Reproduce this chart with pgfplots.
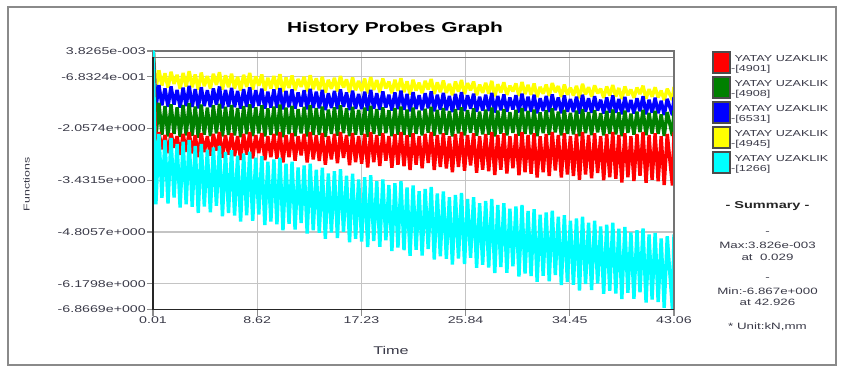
\documentclass[border=0pt]{standalone}
\usepackage{fontspec}
\setmainfont{Liberation Sans}
\newfontfamily\wide{Liberation Sans}[FakeStretch=1.45]
\usepackage{pgfplots}
\pgfplotsset{compat=1.18}
\usepackage{pgfplotstable}
\definecolor{txt}{HTML}{3A3A48}
\definecolor{cgreen}{HTML}{008000}
\definecolor{cblue}{HTML}{0000FF}
\definecolor{cred}{HTML}{FF0000}
\definecolor{ccyan}{HTML}{00FFFF}
\definecolor{cylw}{HTML}{FFFF00}
\definecolor{gridc}{HTML}{C4C4C4}
\definecolor{framec}{HTML}{8A8A8A}

\pgfplotstableread{
t R G B Y C
0.01 0 0 0 0 0
0.03 0.0038 0.0038 0.0038 0.0038 0.0038
0.25 -2.76 -2.30 -1.50 -1.00 -4.07
0.5 -2.15 -1.37 -0.90 -0.51 -2.20
0.75 -2.61 -2.22 -1.44 -0.91 -3.90
1.0 -2.23 -1.46 -0.99 -0.59 -2.36
1.25 -2.71 -2.27 -1.48 -0.97 -4.05
1.5 -2.18 -1.41 -0.94 -0.55 -2.31
1.75 -2.57 -2.20 -1.42 -0.87 -3.89
2.0 -2.26 -1.49 -1.03 -0.63 -2.47
2.25 -2.76 -2.28 -1.50 -1.00 -4.16
2.5 -2.20 -1.43 -0.97 -0.58 -2.41
2.75 -2.68 -2.24 -1.46 -0.94 -4.07
3.0 -2.15 -1.38 -0.92 -0.53 -2.36
3.25 -2.72 -2.25 -1.48 -0.96 -4.14
3.5 -2.23 -1.47 -1.01 -0.62 -2.52
3.75 -2.82 -2.30 -1.52 -1.03 -4.30
4.0 -2.18 -1.42 -0.96 -0.57 -2.47
4.25 -2.68 -2.22 -1.46 -0.93 -4.13
4.5 -2.26 -1.50 -1.04 -0.66 -2.62
4.75 -2.78 -2.26 -1.49 -0.99 -4.28
5.0 -2.20 -1.44 -0.99 -0.60 -2.56
5.25 -2.64 -2.19 -1.43 -0.90 -4.11
5.5 -2.15 -1.40 -0.94 -0.56 -2.52
5.75 -2.83 -2.27 -1.52 -1.02 -4.39
6.0 -2.23 -1.48 -1.03 -0.64 -2.68
6.25 -2.75 -2.23 -1.48 -0.96 -4.30
6.5 -2.18 -1.43 -0.98 -0.60 -2.63
6.75 -2.79 -2.24 -1.49 -0.99 -4.37
7.0 -2.26 -1.51 -1.06 -0.68 -2.78
7.25 -2.89 -2.29 -1.53 -1.05 -4.53
7.5 -2.20 -1.46 -1.01 -0.63 -2.72
7.75 -2.75 -2.21 -1.48 -0.95 -4.36
8.0 -2.15 -1.41 -0.96 -0.58 -2.67
8.25 -2.85 -2.26 -1.51 -1.02 -4.51
8.5 -2.23 -1.49 -1.04 -0.67 -2.83
8.75 -2.71 -2.19 -1.45 -0.92 -4.34
9.0 -2.18 -1.44 -1.00 -0.62 -2.79
9.25 -2.90 -2.27 -1.53 -1.05 -4.62
9.5 -2.26 -1.52 -1.08 -0.71 -2.94
9.75 -2.82 -2.23 -1.50 -0.99 -4.53
10.0 -2.20 -1.47 -1.02 -0.66 -2.88
10.25 -2.86 -2.24 -1.51 -1.01 -4.60
10.5 -2.15 -1.42 -0.98 -0.61 -2.83
10.75 -2.96 -2.29 -1.55 -1.08 -4.76
11.0 -2.23 -1.50 -1.06 -0.70 -2.99
11.25 -2.82 -2.21 -1.49 -0.98 -4.59
11.5 -2.18 -1.45 -1.02 -0.65 -2.94
11.75 -2.91 -2.26 -1.53 -1.04 -4.74
12.0 -2.26 -1.54 -1.10 -0.74 -3.09
12.25 -2.77 -2.19 -1.47 -0.95 -4.57
12.5 -2.20 -1.48 -1.04 -0.68 -3.04
12.75 -2.96 -2.27 -1.55 -1.07 -4.85
13.0 -2.15 -1.43 -1.00 -0.64 -2.99
13.25 -2.88 -2.23 -1.51 -1.01 -4.76
13.5 -2.23 -1.51 -1.08 -0.72 -3.15
13.75 -2.92 -2.23 -1.52 -1.04 -4.83
14.0 -2.18 -1.47 -1.03 -0.68 -3.10
14.25 -3.02 -2.28 -1.57 -1.10 -4.99
14.5 -2.26 -1.55 -1.12 -0.76 -3.25
14.75 -2.88 -2.20 -1.51 -1.00 -4.82
15.0 -2.20 -1.49 -1.06 -0.71 -3.19
15.25 -2.98 -2.25 -1.54 -1.07 -4.97
15.5 -2.15 -1.44 -1.02 -0.66 -3.14
15.75 -2.84 -2.18 -1.48 -0.97 -4.80
16.0 -2.23 -1.52 -1.10 -0.75 -3.31
16.25 -3.03 -2.26 -1.57 -1.09 -5.08
16.5 -2.18 -1.48 -1.05 -0.70 -3.26
16.75 -2.95 -2.22 -1.53 -1.04 -4.99
17.0 -2.26 -1.56 -1.14 -0.79 -3.41
17.25 -2.99 -2.23 -1.54 -1.06 -5.06
17.5 -2.20 -1.50 -1.08 -0.73 -3.35
17.75 -3.09 -2.28 -1.58 -1.12 -5.21
18.0 -2.15 -1.45 -1.03 -0.69 -3.30
18.25 -2.95 -2.20 -1.53 -1.03 -5.05
18.5 -2.23 -1.54 -1.12 -0.77 -3.46
18.75 -3.05 -2.25 -1.56 -1.09 -5.20
19.0 -2.18 -1.49 -1.07 -0.73 -3.41
19.25 -2.91 -2.18 -1.50 -0.99 -5.03
19.5 -2.26 -1.57 -1.16 -0.81 -3.56
19.75 -3.10 -2.26 -1.58 -1.12 -5.31
20.0 -2.20 -1.51 -1.10 -0.76 -3.51
20.25 -3.02 -2.22 -1.54 -1.06 -5.22
20.5 -2.15 -1.47 -1.05 -0.72 -3.46
20.75 -3.06 -2.23 -1.56 -1.09 -5.29
21.0 -2.23 -1.55 -1.14 -0.80 -3.62
21.25 -3.16 -2.28 -1.60 -1.15 -5.44
21.5 -2.18 -1.50 -1.09 -0.76 -3.57
21.75 -3.02 -2.20 -1.54 -1.05 -5.28
22.0 -2.26 -1.58 -1.17 -0.84 -3.72
22.25 -3.11 -2.24 -1.57 -1.12 -5.43
22.5 -2.20 -1.53 -1.12 -0.79 -3.66
22.75 -2.97 -2.17 -1.52 -1.02 -5.26
23.0 -2.15 -1.48 -1.07 -0.74 -3.61
23.25 -3.16 -2.25 -1.60 -1.14 -5.54
23.5 -2.23 -1.56 -1.16 -0.83 -3.78
23.75 -3.08 -2.21 -1.56 -1.09 -5.45
24.0 -2.18 -1.51 -1.11 -0.78 -3.73
24.25 -3.12 -2.22 -1.57 -1.11 -5.52
24.5 -2.26 -1.59 -1.19 -0.87 -3.88
24.75 -3.22 -2.27 -1.62 -1.17 -5.67
25.0 -2.20 -1.54 -1.14 -0.81 -3.82
25.25 -3.08 -2.19 -1.56 -1.08 -5.51
25.5 -2.15 -1.49 -1.09 -0.77 -3.77
25.75 -3.18 -2.24 -1.59 -1.14 -5.66
26.0 -2.23 -1.57 -1.17 -0.85 -3.93
26.25 -3.04 -2.17 -1.53 -1.04 -5.49
26.5 -2.18 -1.52 -1.13 -0.81 -3.88
26.75 -3.23 -2.25 -1.61 -1.17 -5.76
27.0 -2.26 -1.61 -1.21 -0.89 -4.04
27.25 -3.15 -2.21 -1.58 -1.11 -5.68
27.5 -2.20 -1.55 -1.16 -0.84 -3.98
27.75 -3.19 -2.22 -1.59 -1.13 -5.75
28.0 -2.15 -1.50 -1.11 -0.79 -3.93
28.25 -3.29 -2.27 -1.63 -1.20 -5.90
28.5 -2.23 -1.58 -1.19 -0.88 -4.09
28.75 -3.15 -2.19 -1.57 -1.10 -5.74
29.0 -2.18 -1.54 -1.15 -0.83 -4.04
29.25 -3.25 -2.24 -1.61 -1.16 -5.89
29.5 -2.26 -1.62 -1.23 -0.92 -4.19
29.75 -3.11 -2.17 -1.55 -1.07 -5.72
30.0 -2.20 -1.56 -1.17 -0.86 -4.13
30.25 -3.30 -2.25 -1.63 -1.19 -5.99
30.5 -2.15 -1.51 -1.13 -0.82 -4.09
30.75 -3.22 -2.20 -1.59 -1.14 -5.91
31.0 -2.23 -1.59 -1.21 -0.90 -4.25
31.25 -3.26 -2.21 -1.61 -1.16 -5.98
31.5 -2.18 -1.55 -1.16 -0.86 -4.20
31.75 -3.36 -2.26 -1.65 -1.22 -6.13
32.0 -2.26 -1.63 -1.25 -0.95 -4.35
32.25 -3.22 -2.18 -1.59 -1.13 -5.97
32.5 -2.20 -1.57 -1.19 -0.89 -4.29
32.75 -3.32 -2.23 -1.62 -1.19 -6.12
33.0 -2.15 -1.52 -1.15 -0.85 -4.24
33.25 -3.17 -2.16 -1.57 -1.09 -5.95
33.5 -2.23 -1.61 -1.23 -0.93 -4.40
33.75 -3.36 -2.24 -1.65 -1.22 -6.22
34.0 -2.18 -1.56 -1.18 -0.89 -4.36
34.25 -3.28 -2.20 -1.61 -1.16 -6.14
34.5 -2.26 -1.64 -1.27 -0.97 -4.51
34.75 -3.32 -2.21 -1.62 -1.18 -6.21
35.0 -2.20 -1.58 -1.21 -0.92 -4.45
35.25 -3.42 -2.26 -1.66 -1.25 -6.36
35.5 -2.15 -1.54 -1.16 -0.87 -4.40
35.75 -3.28 -2.18 -1.61 -1.15 -6.19
36.0 -2.23 -1.62 -1.25 -0.96 -4.56
36.25 -3.38 -2.23 -1.64 -1.21 -6.35
36.5 -2.18 -1.57 -1.20 -0.91 -4.51
36.75 -3.24 -2.16 -1.58 -1.12 -6.18
37.0 -2.26 -1.65 -1.29 -1.00 -4.66
37.25 -3.43 -2.24 -1.66 -1.24 -6.45
37.5 -2.20 -1.59 -1.23 -0.94 -4.61
37.75 -3.35 -2.20 -1.63 -1.18 -6.37
38.0 -2.15 -1.55 -1.18 -0.90 -4.56
38.25 -3.39 -2.21 -1.64 -1.21 -6.44
38.5 -2.23 -1.63 -1.27 -0.98 -4.72
38.75 -3.49 -2.26 -1.68 -1.27 -6.59
39.0 -2.18 -1.58 -1.22 -0.94 -4.67
39.25 -3.35 -2.17 -1.62 -1.17 -6.42
39.5 -2.26 -1.66 -1.30 -1.02 -4.82
39.75 -3.45 -2.22 -1.66 -1.24 -6.58
40.0 -2.20 -1.61 -1.25 -0.97 -4.76
40.25 -3.31 -2.15 -1.60 -1.14 -6.41
40.5 -2.15 -1.56 -1.20 -0.92 -4.71
40.75 -3.50 -2.23 -1.68 -1.26 -6.68
41.0 -2.23 -1.64 -1.29 -1.01 -4.87
41.25 -3.42 -2.19 -1.64 -1.21 -6.60
41.5 -2.18 -1.59 -1.24 -0.96 -4.83
41.75 -3.46 -2.20 -1.65 -1.23 -6.67
42.0 -2.26 -1.68 -1.32 -1.05 -4.98
42.25 -3.56 -2.25 -1.70 -1.30 -6.82
42.5 -2.20 -1.62 -1.27 -1.00 -4.92
42.93 -3.57 -2.25 -1.70 -1.30 -6.867
43.06 -2.15 -1.57 -1.22 -0.95 -4.87
}\histdata

\begin{document}
\begin{tikzpicture}[x=1pt,y=1pt]
\useasboundingbox (0,0) rectangle (842,367);
\fill[white] (0,0) rectangle (842,367);
\draw[framec, line width=2pt] (8,2.5) rectangle (836,359.5);
\begin{axis}[
  name=ax,
  at={(153pt,57.5pt)}, anchor=south west, scale only axis,
  width=521pt, height=258.5pt,
  xmin=0.01, xmax=43.06, ymin=-6.8669, ymax=0.0038265,
  xtick={0.01,8.62,17.23,25.84,34.45,43.06},
  xticklabels={0.01,8.62,17.23,25.84,34.45,43.06},
  ytick={-6.8669,-6.1798,-4.8057,-3.4315,-2.0574,-0.68324,0.0038265},
  yticklabels={-6.8669e+000,-6.1798e+000,-4.8057e+000,-3.4315e+000,-2.0574e+000,-6.8324e-001,3.8265e-003},
  tick pos=left, tick align=outside, major tick length=6pt,
  every tick/.style={black!45, line width=1.2pt},
  grid=major, major grid style={gridc, line width=1.3pt},
  axis line style={draw=black!55, line width=1.5pt},
  ticklabel style={font=\wide\fontsize{9.8}{11}\selectfont, text=txt},
  yticklabel style={anchor=east, inner sep=1pt},
  xticklabel style={anchor=north, inner sep=1pt},
]
\addplot[cylw, line width=3.4pt, line join=bevel] table[x=t,y=Y]{\histdata};
\addplot[cblue, line width=3.4pt, line join=bevel] table[x=t,y=B]{\histdata};
\addplot[cgreen, line width=3.4pt, line join=bevel] table[x=t,y=G]{\histdata};
\addplot[cred, line width=3.4pt, line join=bevel] table[x=t,y=R]{\histdata};
\addplot[ccyan, line width=3.4pt, line join=bevel] table[x=t,y=C]{\histdata};
\end{axis}
\draw[black!55, line width=1.5pt] (153,309.5) -- (674,309.5) -- (674,57.5);
\draw[black!85, line width=1.5pt] (153,309.5) -- (153,57.5) -- (674,57.5);
% title and axis labels
\node[anchor=base, font=\wide\bfseries\fontsize{14.4}{16}\selectfont] at (395,334.3) {History Probes Graph};
\node[anchor=base, font=\wide\fontsize{11.2}{13}\selectfont, text=txt] at (391,12.2) {Time};
\node[rotate=90, font=\wide\fontsize{8.5}{10}\selectfont, text=txt] at (26.5,182.5) {Functions};
% legend
\foreach \c/\id/\tp in {cred/4901/52,cgreen/4908/77,cblue/6531/102,cylw/4945/127,ccyan/1266/152}{
  \draw[fill=\c, draw=black!70, line width=1.2pt] (713,367-\tp) rectangle (730,367-\tp-21);
  \node[anchor=base west, inner sep=0pt, font=\wide\fontsize{8.7}{10}\selectfont, text=txt] at (734.5,367-\tp-9.5) {YATAY UZAKLIK};
  \node[anchor=base west, inner sep=0pt, font=\wide\fontsize{8.7}{10}\selectfont, text=txt] at (731,367-\tp-20) {-[\id]};
}
% summary
\begin{scope}[every node/.style={anchor=base, inner sep=0pt, text=txt, font=\wide\fontsize{9.2}{11}\selectfont}]
\node[font=\wide\bfseries\fontsize{10}{12}\selectfont, text=black!85] at (767.5,159) {- Summary -};
\node at (767.5,133) {-};
\node at (767.5,118.7) {Max:3.826e-003};
\node at (767.5,107) {at\ \ 0.029};
\node at (767.5,87) {-};
\node at (767.5,72.7) {Min:-6.867e+000};
\node at (767.5,62) {at 42.926};
\node at (767.5,38) {* Unit:kN,mm};
\end{scope}
\end{tikzpicture}
\end{document}
